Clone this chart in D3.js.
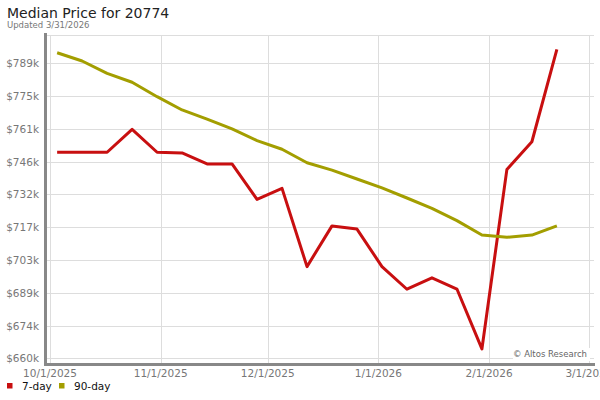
<!DOCTYPE html>
<html><head><meta charset="utf-8">
<script src="https://cdn.jsdelivr.net/npm/d3@7"></script>
<style>body{margin:0;background:#fff}svg{display:block}text{font-family:"DejaVu Sans",sans-serif}</style>
</head><body><svg id="c" width="600" height="400"></svg>
<script>
const startDate = "2025-10-03";
const sevenDay = [750.1,750.1,750.1,760.1,750.1,749.8,745.0,745.0,729.5,734.3,700.1,717.9,716.5,700.1,690.2,695.2,690.3,664.1,742.6,754.7,795.1];
const ninetyDay = [793.6,790.0,784.6,780.7,774.4,768.6,764.6,760.3,755.2,751.4,745.5,742.3,738.4,734.5,730.1,725.6,720.2,713.9,712.9,713.9,717.9];
const yTickLabels = ["$660k","$674k","$689k","$703k","$717k","$732k","$746k","$761k","$775k","$789k"];
const xTickDates = ["2025-10-01","2025-11-01","2025-12-01","2026-01-01","2026-02-01","2026-03-01"];
const xTickLabels = ["10/1/2025","11/1/2025","12/1/2025","1/1/2026","2/1/2026","3/1/2026"];
const seriesNames = ["7-day","90-day"];
const colors = ["#c80f10","#a39e00"];

const svg = d3.select("#c");
const parse = d3.utcParse("%Y-%m-%d");
const d0 = parse(startDate);
const dates = sevenDay.map((_, i) => d3.utcDay.offset(d0, i * 7));

const L = 47, R = 594, T = 35, B = 363;
const x = d3.scaleUtc().domain([parse(xTickDates[0]), parse(xTickDates[xTickDates.length-1])]).range([50, 589]);
const yMin = 660, yMax = 789;
const y = d3.scaleLinear().domain([yMin, yMax]).range([358.3, 63.3]);
const yTicks = yTickLabels.map((_, i) => yMin + i * (yMax - yMin) / (yTickLabels.length - 1));

// title
svg.append("text").attr("x", 7).attr("y", 18).attr("font-size", 14).attr("fill", "#222").text("Median Price for 20774");
svg.append("text").attr("x", 7).attr("y", 28).attr("font-size", 8.5).attr("fill", "#777").text("Updated 3/31/2026");

// grid
const g = svg.append("g");
g.append("line").attr("x1", L).attr("x2", R).attr("y1", T + 0.5).attr("y2", T + 0.5).attr("stroke", "#ddd");
g.selectAll(".hy").data(yTicks).join("line")
  .attr("x1", L).attr("x2", R)
  .attr("y1", d => Math.round(y(d)) + 0.5).attr("y2", d => Math.round(y(d)) + 0.5)
  .attr("stroke", "#ddd");
g.selectAll(".vx").data(xTickDates).join("line")
  .attr("x1", d => Math.round(x(parse(d))) + 0.5).attr("x2", d => Math.round(x(parse(d))) + 0.5)
  .attr("y1", T).attr("y2", B)
  .attr("stroke", "#ddd");

// y labels
svg.selectAll(".yl").data(yTicks).join("text")
  .attr("x", 39).attr("y", d => y(d) + 4)
  .attr("text-anchor", "end").attr("font-size", 10.5).attr("fill", "#777")
  .text((d, i) => yTickLabels[i]);

// x labels
svg.selectAll(".xl").data(xTickDates).join("text")
  .attr("x", d => x(parse(d))).attr("y", 377)
  .attr("text-anchor", "middle").attr("font-size", 10.5).attr("fill", "#777")
  .text((d, i) => xTickLabels[i]);

// watermark
svg.append("rect").attr("x", 513).attr("y", 348).attr("width", 77).attr("height", 13).attr("fill", "#fff");
svg.append("text").attr("x", 587).attr("y", 357).attr("text-anchor", "end").attr("font-size", 8.5).attr("fill", "#666").text("\u00a9 Altos Research");

// lines
const line = d3.line().x((d, i) => x(dates[i])).y(d => y(d));
[sevenDay, ninetyDay].forEach((s, k) => {
  svg.append("path").datum(s).attr("d", line).attr("fill", "none")
    .attr("stroke", colors[k]).attr("stroke-width", 3).attr("stroke-linejoin", "round");
});

// axis bars
svg.append("rect").attr("x", 44).attr("y", T - 2).attr("width", 3).attr("height", B + 3 - (T - 2)).attr("fill", "#888");
svg.append("rect").attr("x", 44).attr("y", B).attr("width", R + 1 - 44).attr("height", 3).attr("fill", "#888");

// legend
const lg = svg.append("g");
const legX = [7, 59];
seriesNames.forEach((n, k) => {
  lg.append("rect").attr("x", legX[k]).attr("y", 383).attr("width", 5.5).attr("height", 5.5).attr("fill", colors[k]);
  lg.append("text").attr("x", legX[k] + 15).attr("y", 390).attr("font-size", 10.5).attr("fill", "#111").text(n);
});
</script></body></html>
